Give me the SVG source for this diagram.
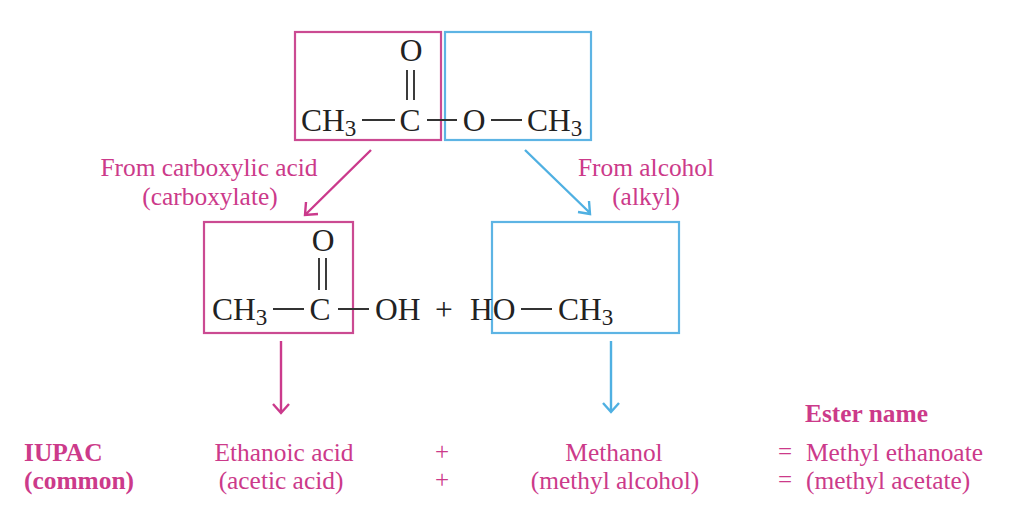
<svg xmlns="http://www.w3.org/2000/svg" width="1010" height="510" viewBox="0 0 1010 510">
<style>
text{font-family:"Liberation Serif",serif}
.c{font-size:31.5px;fill:#222}
.s{font-size:23px}
.l{font-size:25.4px;fill:#cc3a8a}
.o{font-size:25px}
.b{font-weight:bold}
.m{text-anchor:middle}
.box{fill:none;stroke-width:2.2}
.pk{stroke:#cb4a92}
.bl{stroke:#5db4e4}
.bond{stroke:#333;stroke-width:1.9;fill:none}
.ap{stroke:#cb3a8c;stroke-width:2.4;fill:none}
.ab{stroke:#4fb0e2;stroke-width:2.4;fill:none}
</style>
<rect width="1010" height="510" fill="#fff"/>
<g id="connectors">
<path class="ap" d="M371 150L306 214M306 202L305 215L318 214"/>
<path class="ab" d="M525 150L590 213M578 212L590 214L589 201"/>
<path class="ap" d="M281 341V413M273 404L281 413L289 404"/>
<path class="ab" d="M611 341V412M603 403L611 412L619 403"/>
</g>
<g id="ester-acid-part">
<rect class="box pk" x="295" y="32" width="146" height="108"/>
</g>
<g id="ester-alcohol-part">
<rect class="box bl" x="445" y="32" width="146" height="108"/>
</g>
<g id="ester-formula">
<text class="c m" x="411" y="61">O</text>
<path class="bond" d="M407 70V100M414 70V100M362 120H395M427 120H457M491 120H522"/>
<text class="c" x="301" y="131">CH<tspan class="s" dy="5">3</tspan></text>
<text class="c m" x="410" y="131">C</text>
<text class="c m" x="474" y="131">O</text>
<text class="c" x="527" y="131">CH<tspan class="s" dy="5">3</tspan></text>
</g>
<g id="acid-box"><rect class="box pk" x="204" y="222" width="149" height="111"/></g>
<g id="alcohol-box"><rect class="box bl" x="492" y="222" width="187" height="111"/></g>
<g id="reaction-formula">
<text class="c m" x="323" y="251">O</text>
<path class="bond" d="M319 258V290M326 258V290M273 309H304M338 309H369M521 309H552"/>
<text class="c" x="212" y="320">CH<tspan class="s" dy="5">3</tspan></text>
<text class="c m" x="320" y="320">C</text>
<text class="c" x="375" y="320">OH</text>
<text class="c m" x="444" y="320">+</text>
<text class="c" x="470" y="320">HO</text>
<text class="c" x="558" y="320">CH<tspan class="s" dy="5">3</tspan></text>
</g>
<g id="labels">
<text class="l m" x="209" y="176">From carboxylic acid</text>
<text class="l m" x="210" y="205">(carboxylate)</text>
<text class="l m" x="646" y="176">From alcohol</text>
<text class="l m" x="646" y="205">(alkyl)</text>
<text class="l b" x="805" y="422">Ester name</text>
<text class="l b" x="24" y="461">IUPAC</text>
<text class="l b" x="24" y="489">(common)</text>
<text class="l m" x="284" y="461">Ethanoic acid</text>
<text class="l m" x="281" y="489">(acetic acid)</text>
<text class="l m o" x="442" y="460">+</text>
<text class="l m o" x="442" y="488">+</text>
<text class="l m" x="614" y="461">Methanol</text>
<text class="l m" x="615" y="489">(methyl alcohol)</text>
<text class="l m o" x="785" y="460">=</text>
<text class="l m o" x="785" y="488">=</text>
<text class="l" x="806" y="461">Methyl ethanoate</text>
<text class="l" x="806" y="489">(methyl acetate)</text>
</g>
</svg>
